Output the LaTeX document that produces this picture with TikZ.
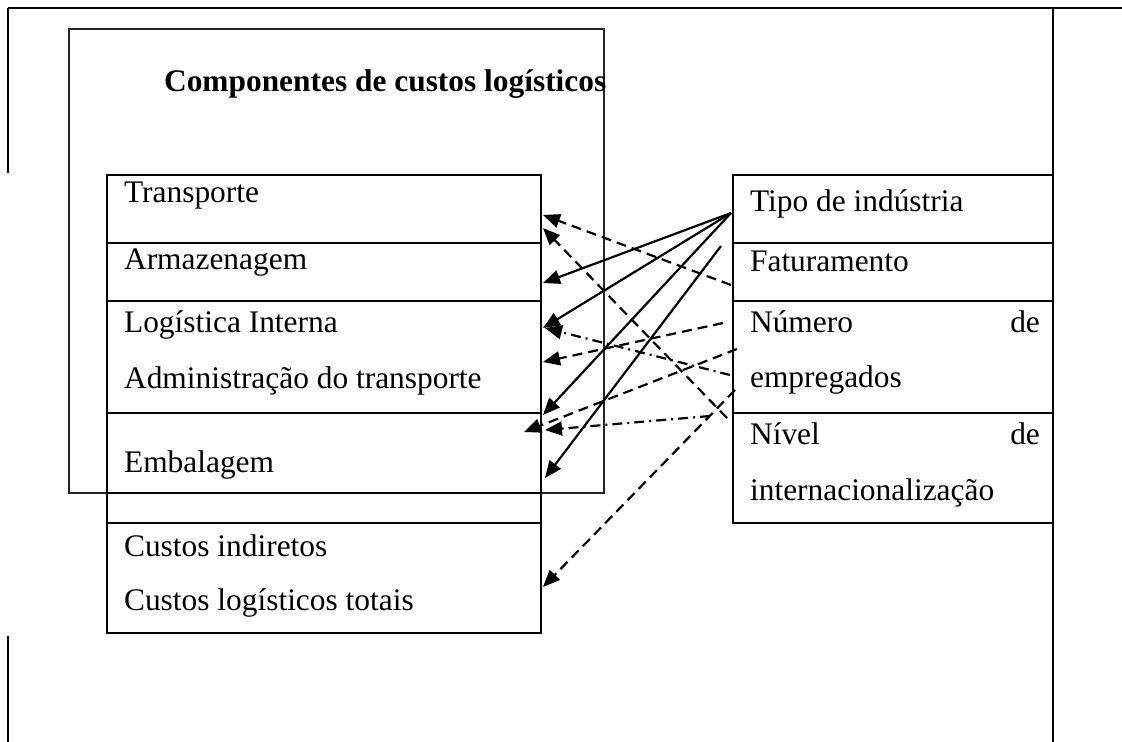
\documentclass[tikz,border=0pt]{standalone}
\usepackage{fontspec}
\setmainfont{Liberation Serif}
\usetikzlibrary{arrows.meta}
\begin{document}
\begin{tikzpicture}[x=0.5pt,y=-0.5pt,line width=1.1pt,
  lcell/.style={draw,rectangle,inner sep=0pt,outer sep=0pt,anchor=north west,minimum width=217pt},
  rcell/.style={draw,rectangle,inner sep=0pt,outer sep=0pt,anchor=north west,minimum width=160pt},
  txt/.style={anchor=base west,inner sep=0pt,font=\fontsize{15.7}{18}\selectfont},
  txtr/.style={anchor=base east,inner sep=0pt,font=\fontsize{15.7}{18}\selectfont},
  conn/.style={-{Triangle[length=8.5pt,width=7pt]},line width=1.1pt},
  dsh/.style={conn,dash pattern=on 5pt off 3pt},
  dshdot/.style={conn,dash pattern=on 5pt off 2.5pt on 1pt off 2.5pt}]
\useasboundingbox (0,0) rectangle (1122,742);
% page frame lines
\draw (8,8) -- (1122,8);
\draw (8,8) -- (8,173);
\draw (8,636) -- (8,742);
\draw (1053,8) -- (1053,742);
% big box
\node[draw=black!85,rectangle,inner sep=0pt,outer sep=0pt,anchor=north west,minimum width=267.5pt,minimum height=232pt] (big) at (69,29) {};
\node[anchor=base west,inner sep=0pt,font=\fontsize{15.7}{18}\selectfont\bfseries] (title) at (163,92) {Componentes de custos logísticos};
% left table
\node[lcell,minimum height=34pt] (transp) at (107,175) {};
\node[lcell,minimum height=29pt] (armaz) at (107,243) {};
\node[lcell,minimum height=56pt] (logint) at (107,301) {};
\node[lcell,minimum height=40pt] (embal) at (107,413) {};
\node[lcell,minimum height=15pt] (vazio) at (107,493) {};
\node[lcell,minimum height=55pt] (custos) at (107,523) {};
\node[txt] (t1) at (123,203) {Transporte};
\node[txt] (t2) at (123,270) {Armazenagem};
\node[txt] (t3) at (123,333) {Logística Interna};
\node[txt] (t4) at (123,388) {Administração do transporte};
\node[txt] (t5) at (123,472) {Embalagem};
\node[txt] (t6) at (123,556) {Custos indiretos};
\node[txt] (t7) at (123,610) {Custos logísticos totais};
% right table
\node[rcell,minimum height=34pt] (tipo) at (733,175) {};
\node[rcell,minimum height=29pt] (fat) at (733,243) {};
\node[rcell,minimum height=56pt] (num) at (733,301) {};
\node[rcell,minimum height=55pt] (nivel) at (733,413) {};
\node[txt] (r1) at (749,212) {Tipo de indústria};
\node[txt] (r2) at (749,272) {Faturamento};
\node[txt] (r3) at (749,333) {Número};
\node[txtr] (r3b) at (1041,333) {de};
\node[txt] (r4) at (749,387) {empregados};
\node[txt] (r5) at (749,444) {Nível};
\node[txtr] (r5b) at (1041,444) {de};
\node[txt] (r6) at (749,500) {internacionalização};
% connector end points
\coordinate (tipoA) at (731,213);
\coordinate (tipoB) at (721,246);
\coordinate (fatA) at (731,285);
\coordinate (numA) at (723,323);
\coordinate (numB) at (737,349);
\coordinate (empA) at (730,375);
\coordinate (empB) at (735,390);
\coordinate (nivA) at (727,418);
\coordinate (nivB) at (710,416);
\coordinate (transpA) at (543,215);
\coordinate (transpB) at (543,228);
\coordinate (armazA) at (543,283);
\coordinate (logA) at (543,328);
\coordinate (logB) at (545,328);
\coordinate (admA) at (543,362);
\coordinate (embA) at (543,415);
\coordinate (embB) at (524,432);
\coordinate (embC) at (545,430);
\coordinate (embD) at (545,478);
\coordinate (custA) at (543,587);
% solid connectors
\draw[conn] (tipoA) -- (armazA);
\draw[conn] (tipoA) -- (logA);
\draw[conn] (tipoA) -- (embA);
\draw[conn] (tipoB) -- (embD);
% dashed connectors
\draw[dsh] (fatA) -- (transpA);
\draw[dsh] (nivA) -- (transpB);
\draw[dsh] (numA) -- (admA);
\draw[dsh] (numB) -- (embB);
\draw[dsh] (empB) -- (custA);
% dash-dot connectors
\draw[dshdot] (empA) -- (logB);
\draw[dshdot] (nivB) -- (embC);
\end{tikzpicture}
\end{document}
